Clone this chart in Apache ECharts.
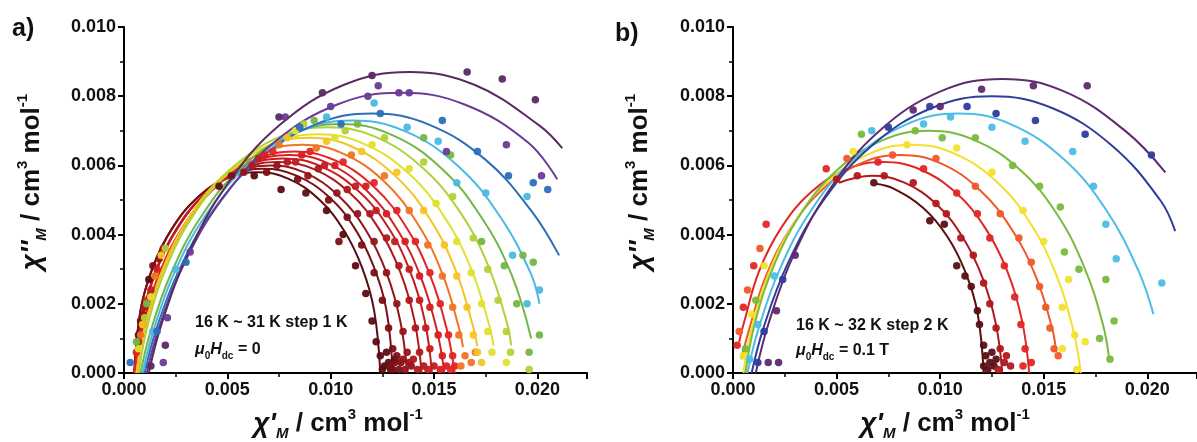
<!DOCTYPE html>
<html>
<head>
<meta charset="utf-8">
<script src="https://cdn.jsdelivr.net/npm/echarts@6/dist/echarts.min.js"></script>
<style>html,body{margin:0;padding:0;background:#fff;}#c{width:1197px;height:442px;}</style>
</head>
<body>
<div id="c"></div>
<script>
// ---- data ----
const tempsA = ['16 K','17 K','18 K','19 K','20 K','21 K','22 K','23 K','24 K','25 K','26 K','27 K','28 K','29 K','30 K','31 K'];
const tempsB = ['16 K','18 K','20 K','22 K','24 K','26 K','28 K','30 K','32 K'];
const xTicks = [0, 0.005, 0.010, 0.015, 0.020];
const yTicks = [0, 0.002, 0.004, 0.006, 0.008, 0.010];

const fitA = [
 [[.0005,0],[.0008,.00181],[.00139,.00306],[.00228,.00414],[.00347,.00502],[.00496,.00562],[.00645,.0058],[.00794,.00562],[.00943,.00502],[.01062,.00414],[.01151,.00306],[.0121,.00181],[.0124,0]],
 [[.0005,0],[.00081,.00184],[.00144,.00311],[.00237,.00421],[.00362,.00511],[.00519,.00571],[.00675,.0059],[.00831,.00571],[.00988,.00511],[.01113,.00421],[.01206,.00311],[.01269,.00184],[.013,0]],
 [[.0005,0],[.00083,.00149],[.00149,.00288],[.00248,.00411],[.0038,.00511],[.00545,.00579],[.0071,.006],[.00875,.00579],[.0104,.00511],[.01172,.00411],[.01271,.00288],[.01337,.00149],[.0137,0]],
 [[.0005,0],[.00085,.00152],[.00154,.00293],[.00258,.00418],[.00397,.0052],[.00571,.00589],[.00745,.0061],[.00919,.00589],[.01093,.0052],[.01232,.00418],[.01336,.00293],[.01405,.00152],[.0144,0]],
 [[.0005,0],[.00086,.00154],[.00158,.00297],[.00266,.00425],[.0041,.00528],[.0059,.00598],[.0077,.0062],[.0095,.00598],[.0113,.00528],[.01274,.00425],[.01382,.00297],[.01454,.00154],[.0149,0]],
 [[.0005,0],[.00087,.00126],[.00162,.00274],[.00275,.00412],[.00425,.00527],[.00612,.00606],[.008,.0063],[.00988,.00606],[.01175,.00527],[.01325,.00412],[.01438,.00274],[.01513,.00126],[.0155,0]],
 [[.0005,0],[.00089,.00128],[.00166,.00278],[.00282,.00419],[.00437,.00536],[.00631,.00615],[.00825,.0064],[.01019,.00615],[.01213,.00536],[.01368,.00419],[.01484,.00278],[.01561,.00128],[.016,0]],
 [[.0006,0],[.001,.00132],[.0018,.00287],[.003,.00432],[.0046,.00553],[.0066,.00634],[.0086,.0066],[.0106,.00634],[.0126,.00553],[.0142,.00432],[.0154,.00287],[.0162,.00132],[.0164,.00075]],
 [[.0006,0],[.00102,.00136],[.00185,.00296],[.0031,.00445],[.00477,.00569],[.00686,.00654],[.00895,.0068],[.01104,.00654],[.01313,.00569],[.0148,.00445],[.01605,.00296],[.01688,.00136],[.01709,.00078]],
 [[.0007,0],[.00113,.00138],[.002,.003],[.00331,.00452],[.00505,.00578],[.00722,.00663],[.0094,.0069],[.01158,.00663],[.01375,.00578],[.01549,.00452],[.0168,.003],[.01767,.00138],[.01788,.00079]],
 [[.0007,0],[.00116,.00142],[.00207,.00309],[.00344,.00465],[.00527,.00594],[.00756,.00683],[.00985,.0071],[.01214,.00683],[.01443,.00594],[.01626,.00465],[.01763,.00309],[.01854,.00142],[.01873,.0008]],
 [[.0008,0],[.00128,.00119],[.00225,.00284],[.00371,.0045],[.00565,.00592],[.00807,.00689],[.0105,.0072],[.01293,.00689],[.01535,.00592],[.01729,.0045],[.01875,.00284],[.0197,.001]],
 [[.0009,0],[.00141,.0012],[.00242,.00288],[.00395,.00456],[.00597,.006],[.00851,.00699],[.01105,.0073],[.01359,.00699],[.01613,.006],[.01815,.00456],[.01968,.00288],[.0201,.002]],
 [[.001,0],[.00155,.00124],[.00265,.00296],[.0043,.00469],[.0065,.00616],[.00925,.00718],[.012,.0075],[.01475,.00718],[.0175,.00616],[.0197,.00469],[.02105,.0034]],
 [[.0011,0],[.00171,.00134],[.00294,.0032],[.00479,.00506],[.00725,.00666],[.01032,.00776],[.0134,.0081],[.01648,.00776],[.01955,.00666],[.02096,.0056]],
 [[.0012,0],[.00183,.00144],[.00309,.00343],[.00498,.00544],[.0075,.00715],[.01065,.00833],[.0138,.0087],[.01695,.00833],[.0201,.00715],[.0212,.0065]]
];

const dotsA = [
 [[.0007,.0011],[.0012,.0027],[.0046,.0054],[.0063,.0057],[.0076,.0053],[.0088,.0052],[.0098,.0047],[.0106,.0040],[.0112,.0031],[.0117,.0023],[.0120,.0015],[.0122,.0009],[.0124,.0005],[.0126,.0002],[.0128,.0003],[.0125,.0001],[.0127,.0006],[.0129,.0001],[.0131,.0004]],
 [[.0008,.0015],[.0014,.0031],[.0052,.0057],[.0069,.0058],[.0084,.0056],[.0099,.0050],[.0104,.0038],[.0108,.0045],[.0115,.0037],[.0121,.0029],[.0125,.0021],[.0128,.0013],[.0130,.0007],[.0131,.0003],[.0133,.0001],[.0129,.0002],[.0132,.0005],[.0134,.0003],[.0130,.0001]],
 [[.0009,.0017],[.0017,.0033],[.0058,.0058],[.0074,.0060],[.0089,.0057],[.0103,.0052],[.0113,.0046],[.0121,.0038],[.0127,.0029],[.0132,.0020],[.0135,.0012],[.0137,.0006],[.0139,.0002],[.0136,.0001],[.0135,.0004],[.0138,.0003]],
 [[.0010,.0019],[.0019,.0036],[.0062,.0060],[.0079,.0061],[.0094,.0059],[.0108,.0053],[.0119,.0046],[.0127,.0039],[.0133,.0031],[.0138,.0021],[.0141,.0013],[.0143,.0006],[.0145,.0002],[.0142,.0001],[.0140,.0004]],
 [[.0007,.0009],[.0013,.0024],[.0065,.0062],[.0083,.0061],[.0097,.0060],[.0112,.0054],[.0122,.0047],[.0131,.0038],[.0138,.0030],[.0143,.0021],[.0146,.0013],[.0148,.0007],[.0150,.0002],[.0147,.0001]],
 [[.0009,.0014],[.0016,.0030],[.0068,.0063],[.0086,.0063],[.0102,.0060],[.0117,.0054],[.0127,.0046],[.0136,.0038],[.0143,.0028],[.0148,.0019],[.0152,.0011],[.0154,.0005],[.0156,.0002],[.0153,.0001]],
 [[.0006,.0006],[.0011,.0021],[.0072,.0064],[.0090,.0064],[.0106,.0061],[.0121,.0055],[.0132,.0047],[.0141,.0038],[.0148,.0029],[.0153,.0020],[.0157,.0011],[.0159,.0005],[.0160,.0002],[.0158,.0001]],
 [[.0008,.0011],[.0015,.0028],[.0075,.0066],[.0093,.0065],[.0110,.0063],[.0126,.0057],[.0138,.0047],[.0147,.0037],[.0154,.0028],[.0159,.0019],[.0162,.0011],[.0165,.0005],[.0168,.0003],[.0170,.0006],[.0163,.0002]],
 [[.0009,.0014],[.0018,.0034],[.0079,.0068],[.0098,.0067],[.0115,.0064],[.0132,.0058],[.0145,.0047],[.0155,.0037],[.0161,.0028],[.0166,.0019],[.0169,.0011],[.0171,.0006],[.0173,.0003]],
 [[.0007,.0007],[.0013,.0022],[.0083,.0070],[.0102,.0068],[.0120,.0066],[.0138,.0059],[.0151,.0049],[.0161,.0038],[.0168,.0029],[.0173,.0020],[.0176,.0012],[.0178,.0006],[.0185,.0003]],
 [[.0010,.0016],[.0020,.0036],[.0087,.0072],[.0107,.0070],[.0126,.0068],[.0145,.0061],[.0159,.0051],[.0169,.0039],[.0176,.0030],[.0181,.0021],[.0185,.0012],[.0187,.0006],[.0196,.0001]],
 [[.0006,.0009],[.0011,.0020],[.0092,.0073],[.0113,.0072],[.0145,.0068],[.0158,.0063],[.0173,.0038],[.0184,.0031],[.0190,.0020],[.0193,.0034],[.0198,.0032],[.0201,.0011],[.0196,.0006]],
 [[.0014,.0012],[.0025,.0030],[.0098,.0074],[.0121,.0078],[.0137,.0071],[.0152,.0067],[.0161,.0055],[.0175,.0052],[.0188,.0034],[.0195,.0051],[.0195,.0020],[.0201,.0024]],
 [[.0003,.0003],[.0016,.0012],[.0030,.0032],[.0085,.0071],[.0105,.0072],[.0124,.0075],[.0154,.0073],[.0171,.0064],[.0186,.0057],[.0198,.0055],[.0205,.0053]],
 [[.0019,.0003],[.0021,.0016],[.0032,.0035],[.0078,.0074],[.0100,.0077],[.0118,.0080],[.0123,.0083],[.0133,.0081],[.0138,.0081],[.0156,.0064],[.0185,.0066],[.0202,.0057]],
 [[.0013,.0002],[.0020,.0008],[.0075,.0074],[.0096,.0081],[.0120,.0086],[.0166,.0087],[.0183,.0085],[.0199,.0079]]
];

const fitB = [
 [[.0069,.00547],[.00775,.00533],[.0092,.00476],[.01036,.00393],[.01123,.0029],[.01181,.00172],[.0121,0]],
 [[.00512,.0055],[.0067,.0057],[.00828,.0055],[.00985,.00486],[.01111,.0039],[.01206,.00273],[.01269,.00142],[.013,0]],
 [[.0003,.0009],[.00055,.0015],[.00125,.00293],[.00231,.00418],[.00372,.0052],[.00549,.00589],[.00725,.0061],[.00901,.00589],[.01078,.0052],[.01219,.00418],[.01325,.00293],[.01395,.00152],[.0143,0]],
 [[.0004,.0004],[.00078,.00126],[.00155,.00274],[.00271,.00412],[.00425,.00527],[.00617,.00606],[.0081,.0063],[.01003,.00606],[.01195,.00527],[.01349,.00412],[.01465,.00274],[.01542,.00126],[.0156,.0006]],
 [[.0005,0],[.00091,.00132],[.00172,.00287],[.00294,.00432],[.00457,.00553],[.00661,.00634],[.00865,.0066],[.01069,.00634],[.01273,.00553],[.01436,.00432],[.01558,.00287],[.01639,.00132],[.0168,0]],
 [[.0006,0],[.00104,.0014],[.00193,.00304],[.00325,.00458],[.00502,.00586],[.00724,.00673],[.00945,.007],[.01166,.00673],[.01388,.00586],[.01565,.00458],[.01697,.00304],[.01786,.0014],[.01816,.0004]],
 [[.0007,0],[.00121,.00124],[.00223,.00296],[.00376,.00469],[.0058,.00616],[.00835,.00718],[.0109,.0075],[.01345,.00718],[.016,.00616],[.01804,.00469],[.01957,.00296],[.0203,.0017]],
 [[.0009,0],[.00148,.00132],[.00264,.00316],[.00438,.005],[.0067,.00657],[.0096,.00766],[.0125,.008],[.0154,.00766],[.0183,.00657],[.02062,.005],[.02135,.0041]],
 [[.0011,0],[.0017,.0014],[.00288,.00335],[.00467,.00531],[.00705,.00699],[.01002,.00814],[.013,.0085],[.01598,.00814],[.01895,.00699],[.02087,.0058]]
];

const dotsB = [
 [[.0068,.0055],[.0095,.0044],[.0102,.0043],[.0108,.0031],[.0112,.0028],[.0115,.0025],[.0118,.0018],[.0119,.0014],[.0121,.0008],[.0122,.0005],[.0124,.0003],[.0123,.0001],[.0126,.0002],[.0127,.0004],[.0125,.0006],[.0121,.0002]],
 [[.0050,.0056],[.0060,.0057],[.0073,.0057],[.0087,.0055],[.0098,.0049],[.0103,.0046],[.0110,.0039],[.0116,.0034],[.0121,.0026],[.0124,.0020],[.0127,.0013],[.0129,.0007],[.0131,.0003],[.0134,.0002],[.0128,.0001],[.0132,.0005]],
 [[.0002,.0008],[.0005,.0019],[.0010,.0031],[.0016,.0043],[.0045,.0059],[.0070,.0061],[.0092,.0059],[.0108,.0052],[.0118,.0046],[.0124,.0039],[.0131,.0031],[.0136,.0022],[.0139,.0014],[.0141,.0007],[.0140,.0002],[.0144,.0003]],
 [[.0003,.0012],[.0007,.0024],[.0013,.0036],[.0055,.0062],[.0077,.0063],[.0098,.0062],[.0117,.0054],[.0129,.0046],[.0138,.0039],[.0144,.0032],[.0148,.0025],[.0151,.0019],[.0153,.0013],[.0155,.0007],[.0157,.0005]],
 [[.0005,.0005],[.0009,.0017],[.0015,.0031],[.0058,.0064],[.0084,.0066],[.0108,.0065],[.0125,.0058],[.0140,.0047],[.0150,.0038],[.0159,.0019],[.0162,.0027],[.0165,.0011],[.0159,.0007],[.0170,.0009],[.0166,.0001]],
 [[.0006,.0007],[.0011,.0021],[.0062,.0069],[.0088,.0070],[.0101,.0068],[.0117,.0068],[.0135,.0060],[.0148,.0054],[.0158,.0048],[.0160,.0035],[.0167,.0030],[.0180,.0027],[.0184,.0015],[.0177,.0010],[.0182,.0004]],
 [[.0008,.0004],[.0012,.0014],[.0020,.0028],[.0067,.0070],[.0092,.0072],[.0105,.0074],[.0125,.0071],[.0141,.0067],[.0164,.0064],[.0174,.0054],[.0180,.0043],[.0185,.0033],[.0207,.0026]],
 [[.0012,.0003],[.0015,.0012],[.0024,.0027],[.0075,.0071],[.0095,.0077],[.0113,.0077],[.0127,.0075],[.0146,.0073],[.0170,.0069],[.0202,.0063]],
 [[.0017,.0003],[.0022,.0003],[.0021,.0018],[.0030,.0034],[.0087,.0076],[.0100,.0077],[.0120,.0082],[.0145,.0083],[.0171,.0083]]
];

// ---- styles ----
const colorsA = ['#5a0c12','#7a1016','#961419','#b0181d','#c41c20','#d61f22','#e42423','#ef7424','#f5c423','#dfe22c','#b0d236','#72b744','#4ab8e4','#2c6eb8','#6a3a96','#5a2a62'];
const colorsB = ['#5a0f12','#b0181e','#e22626','#f0582a','#f2e02c','#78bb3c','#4cbde6','#2f3d9c','#5e2a70'];
const FONT = '"Liberation Sans", Arial, sans-serif';

const chart = echarts.init(document.getElementById('c'), null, {renderer: 'canvas'});

function xAxisCfg(gi) {
  return {
    type: 'value', gridIndex: gi, min: 0, max: 0.0224, interval: 0.005,
    axisLine: {show: true, onZero: false, lineStyle: {color: '#000', width: 2}},
    axisTick: {show: true, inside: false, length: 6, lineStyle: {color: '#000', width: 2}},
    minorTick: {show: true, splitNumber: 2, length: 4, lineStyle: {color: '#000', width: 1.5}},
    splitLine: {show: false}, minorSplitLine: {show: false},
    axisLabel: {show: true, margin: 8, color: '#111', fontFamily: FONT, fontWeight: 'bold', fontSize: 18,
      showMaxLabel: false,
      formatter: v => (xTicks.some(t => Math.abs(t - v) < 1e-9) ? v.toFixed(3) : '')}
  };
}
function yAxisCfg(gi) {
  return {
    type: 'value', gridIndex: gi, min: 0, max: 0.010, interval: 0.002,
    axisLine: {show: true, onZero: false, lineStyle: {color: '#000', width: 2}},
    axisTick: {show: true, inside: false, length: 6, lineStyle: {color: '#000', width: 2}},
    minorTick: {show: true, splitNumber: 2, length: 4, lineStyle: {color: '#000', width: 1.5}},
    splitLine: {show: false}, minorSplitLine: {show: false},
    axisLabel: {show: true, margin: 8, color: '#111', fontFamily: FONT, fontWeight: 'bold', fontSize: 18,
      formatter: v => (yTicks.some(t => Math.abs(t - v) < 1e-9) ? v.toFixed(3) : '')}
  };
}

const series = [];
function addPanel(fits, dots, colors, temps, gi) {
  fits.forEach((pts, i) => {
    series.push({
      type: 'line', name: temps[i] + ' fit', xAxisIndex: gi, yAxisIndex: gi, data: pts,
      smooth: 0.4, showSymbol: false, symbol: 'none', silent: true,
      lineStyle: {color: colors[i], width: 2}, z: 2
    });
  });
  dots.forEach((pts, i) => {
    series.push({
      type: 'scatter', name: temps[i], xAxisIndex: gi, yAxisIndex: gi, data: pts,
      symbol: 'circle', symbolSize: 7.5, silent: true,
      itemStyle: {color: colors[i], opacity: 0.95}, z: 3
    });
  });
}
addPanel(fitA, dotsA, colorsA, tempsA, 0);
addPanel(fitB, dotsB, colorsB, tempsB, 1);

const richBase = {
  c: {fontFamily: FONT, fontSize: 28, fontWeight: 'bold', fontStyle: 'italic', lineHeight: 34, fill: '#111'},
  n: {fontFamily: FONT, fontSize: 26, fontWeight: 'bold', lineHeight: 34, fill: '#111'},
  sup: {fontFamily: FONT, fontSize: 15, fontWeight: 'bold', lineHeight: 18, verticalAlign: 'top', fill: '#111'},
  sub: {fontFamily: FONT, fontSize: 15, fontWeight: 'bold', fontStyle: 'italic', lineHeight: 16, verticalAlign: 'bottom', fill: '#111'}
};
const richAnn = {
  i: {fontFamily: FONT, fontSize: 16, fontWeight: 'bold', fontStyle: 'italic', lineHeight: 22, fill: '#111'},
  n: {fontFamily: FONT, fontSize: 16, fontWeight: 'bold', lineHeight: 22, fill: '#111'},
  s: {fontFamily: FONT, fontSize: 10, fontWeight: 'bold', lineHeight: 12, verticalAlign: 'bottom', fill: '#111'}
};
const yTitle = "{c|χ''}{sub|M}{n| / cm}{sup|3}{n| mol}{sup|-1}";
const xTitle = "{c|χ'}{sub|M}{n| / cm}{sup|3}{n| mol}{sup|-1}";

const option = {
  animation: false,
  backgroundColor: '#fff',
  grid: [
    {left: 124, top: 27, width: 463, height: 346, outerBoundsMode: 'none', containLabel: false},
    {left: 733, top: 27, width: 464, height: 346, outerBoundsMode: 'none', containLabel: false}
  ],
  xAxis: [xAxisCfg(0), xAxisCfg(1)],
  yAxis: [yAxisCfg(0), yAxisCfg(1)],
  series: series,
  graphic: [
    {type: 'text', x: 12, y: 17, style: {text: 'a)', font: 'bold 25px ' + FONT, fill: '#111'}},
    {type: 'text', x: 615, y: 22, style: {text: 'b)', font: 'bold 25px ' + FONT, fill: '#111'}},
    {type: 'text', x: 32, y: 182, rotation: Math.PI / 2,
      style: {text: yTitle, rich: richBase, align: 'center', verticalAlign: 'middle'}},
    {type: 'text', x: 640, y: 182, rotation: Math.PI / 2,
      style: {text: yTitle, rich: richBase, align: 'center', verticalAlign: 'middle'}},
    {type: 'text', x: 338, y: 424,
      style: {text: xTitle, rich: richBase, align: 'center', verticalAlign: 'middle'}},
    {type: 'text', x: 945, y: 424,
      style: {text: xTitle, rich: richBase, align: 'center', verticalAlign: 'middle'}},
    {type: 'text', x: 195, y: 323,
      style: {text: '16 K ~ 31 K step 1 K', font: 'bold 16px ' + FONT, fill: '#111', verticalAlign: 'middle'}},
    {type: 'text', x: 195, y: 350,
      style: {text: '{i|μ}{s|0}{i|H}{s|dc}{n| = 0}', rich: richAnn, verticalAlign: 'middle'}},
    {type: 'text', x: 796, y: 326,
      style: {text: '16 K ~ 32 K step 2 K', font: 'bold 16px ' + FONT, fill: '#111', verticalAlign: 'middle'}},
    {type: 'text', x: 796, y: 351,
      style: {text: '{i|μ}{s|0}{i|H}{s|dc}{n| = 0.1 T}', rich: richAnn, verticalAlign: 'middle'}}
  ]
};
chart.setOption(option);
</script>
</body>
</html>
